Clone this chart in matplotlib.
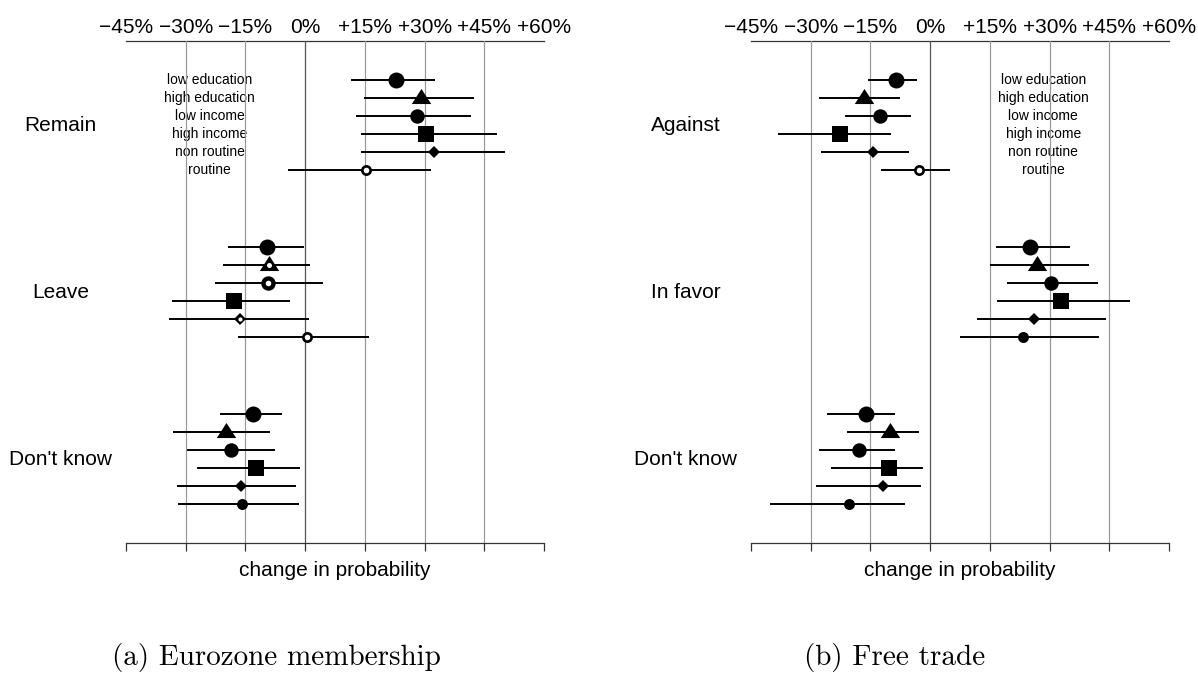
#!/usr/bin/env python3
"""
Marginal effects on referendum preferences, by subgroup.
Two panels: (a) Eurozone membership, (b) Free trade.
"""

import matplotlib
matplotlib.use("Agg")
import matplotlib.pyplot as plt
import matplotlib.transforms as mtransforms

# --- data (change in probability, in %) -------------------------------------
subgroups = ["low education", "high education", "low income",
             "high income", "non routine", "routine"]

euro_groups = ["Remain", "Leave", "Don't know"]
euro_est = [[22.9, 29.2, 28.0, 30.4, 32.4, 15.3],
            [-9.7, -9.2, -9.4, -17.9, -16.4, 0.5],
            [-13.1, -20.0, -18.7, -12.4, -16.0, -15.9]]
euro_lo = [[11.5, 14.7, 12.9, 14.1, 14.0, -4.2],
           [-19.3, -20.6, -22.6, -33.4, -34.3, -16.9],
           [-21.4, -33.3, -29.7, -27.2, -32.1, -32.0]]
euro_hi = [[32.6, 42.4, 41.6, 48.1, 50.3, 31.7],
           [-0.2, 1.1, 4.5, -3.9, 0.9, 16.0],
           [-5.7, -8.8, -7.6, -1.3, -2.3, -1.6]]
# estimates whose interval covers zero are drawn with a white centre
euro_open = [[False, False, False, False, False, True],
             [False, True, True, False, True, True],
             [False, False, False, False, False, False]]

trade_groups = ["Against", "In favor", "Don't know"]
trade_est = [[-8.6, -16.7, -12.5, -22.6, -14.3, -2.9],
             [25.1, 26.8, 30.3, 32.8, 26.2, 23.4],
             [-16.2, -10.0, -17.9, -10.3, -11.8, -20.4]]
trade_lo = [[-15.5, -27.8, -21.4, -38.1, -27.3, -12.4],
            [16.6, 15.0, 19.2, 16.8, 11.8, 7.6],
            [-25.8, -20.9, -27.8, -24.8, -28.7, -40.2]]
trade_hi = [[-3.3, -7.5, -4.9, -9.8, -5.2, 4.9],
            [35.1, 39.8, 42.1, 50.1, 44.1, 42.3],
            [-8.8, -2.7, -8.9, -1.8, -2.4, -6.4]]
trade_open = [[False, False, False, False, False, True],
              [False, False, False, False, False, False],
              [False, False, False, False, False, False]]

xticks = [-45, -30, -15, 0, 15, 30, 45, 60]
xtick_labels = ["\u221245%", "\u221230%", "\u221215%", "0%",
                "+15%", "+30%", "+45%", "+60%"]

# --- styling ----------------------------------------------------------------
TRIANGLE = [(0, 0.98), (-1, -0.57), (1, -0.57)]
MARKERS = ['o', TRIANGLE, 'o', 's', 'D', 'o']
SIZES = [11.5, 14, 10.4, 11.5, 6.6, 7.9]
HOLE = [4.0, 3.6, 4.0, 4.0, 3.0, 4.0]
GROUP_STEP = 9.28

plt.rcParams['font.family'] = ['Liberation Sans', 'DejaVu Sans']

W, H = 1198, 675
fig = plt.figure(figsize=(W / 100, H / 100), dpi=100)


def panel(left_px, groups, est, lo, hi, hollow, legend_x):
    top_px, bottom_px, right_px = 41, 543, left_px + 418
    ax = fig.add_axes([left_px / W, (H - bottom_px) / H,
                       (right_px - left_px) / W, (bottom_px - top_px) / H])
    n_units = (bottom_px - top_px) / 18.0
    ax.set_xlim(-45, 60)
    ax.set_ylim(n_units - 2.17, -2.17)

    # vertical reference lines
    for t in xticks[1:-1]:
        ax.axvline(t, color='#555555' if t == 0 else '#9a9a9a',
                   lw=0.9, zorder=1)

    for g, name in enumerate(groups):
        for r in range(len(subgroups)):
            y = g * GROUP_STEP + r
            ax.plot([lo[g][r], hi[g][r]], [y, y], color='black',
                    lw=1.4, solid_capstyle='butt', zorder=2)
            ax.plot(est[g][r], y, marker=MARKERS[r], ms=SIZES[r],
                    color='black', mew=0, zorder=3)
            if hollow[g][r]:
                ax.plot(est[g][r], y, marker='o', ms=HOLE[r],
                        color='white', mew=0, zorder=4)
        trans = mtransforms.blended_transform_factory(ax.transAxes, ax.transData)
        ax.text(-0.157, g * GROUP_STEP + 2.5, name, transform=trans,
                ha='center', va='center', fontsize=15)

    for r, label in enumerate(subgroups):
        ax.text(legend_x, r, label, ha='center', va='center', fontsize=10,
                zorder=0)

    # axes: bottom ticks without labels, top labels without ticks
    for side in ['left', 'right', 'top']:
        ax.spines[side].set_visible(False)
    ax.spines['bottom'].set_color('#333333')
    ax.spines['bottom'].set_linewidth(0.9)
    ax.set_yticks([])
    ax.set_xticks(xticks)
    ax.tick_params(axis='x', length=5.5, width=0.9, color='#333333',
                   labelbottom=False)
    sec = ax.secondary_xaxis('top')
    sec.set_xticks(xticks, xtick_labels)
    sec.tick_params(length=0, pad=3, labelsize=15)
    sec.spines['top'].set_color('#333333')
    sec.spines['top'].set_linewidth(0.9)

    ax.text(0.5, -0.054, "change in probability", transform=ax.transAxes,
            ha='center', va='center', fontsize=15)
    return ax


panel(126, euro_groups, euro_est, euro_lo, euro_hi, euro_open, -24.0)
panel(751, trade_groups, trade_est, trade_lo, trade_hi, trade_open, 28.4)

fig.text(276 / W, 1 - 665 / H, "(a) Eurozone membership", family='cmr10',
         fontsize=21, ha='center', va='baseline')
fig.text(895 / W, 1 - 665 / H, "(b) Free trade", family='cmr10',
         fontsize=21, ha='center', va='baseline')

fig.savefig("out.png", dpi=100)
